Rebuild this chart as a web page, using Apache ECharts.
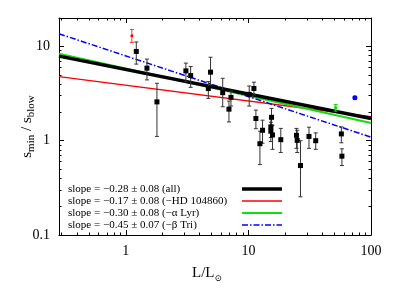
<!DOCTYPE html>
<html><head><meta charset="utf-8">
<script src="https://cdn.jsdelivr.net/npm/echarts@6/dist/echarts.min.js"></script>
<style>html,body{margin:0;padding:0;background:#fff}#c{width:399px;height:299px}</style>
</head><body><div id="c"></div>
<script>
// ---- data ----
const xRange = [0.285, 100];
const yRange = [0.1, 20];
const xMajor = [1, 10, 100];
const xMinor = [0.3,0.4,0.5,0.6,0.7,0.8,0.9,2,3,4,5,6,7,8,9,20,30,40,50,60,70,80,90];
const yMajor = [0.1, 1, 10];
const yMinor = [0.2,0.3,0.4,0.5,0.6,0.7,0.8,0.9,2,3,4,5,6,7,8,9,20];

const diskL  = [1.217,1.487,1.794,3.09,3.38,4.91,4.71,6.17,7.21,6.94,10.15,11.09,11.51,13.04,12.41,15.44,15.24,15.24,15.73,18.37,24.66,25.0,26.6,31.2,35.4,57.3,57.9];
const diskS  = [8.84,5.88,2.58,5.50,4.90,5.33,3.57,3.23,2.88,2.16,3.10,3.58,1.72,1.29,0.929,1.77,1.40,1.26,1.15,1.025,1.14,1.007,0.545,1.11,1.0,1.18,0.685];
const diskLo = [6.49,4.41,1.11,4.23,3.68,3.90,2.81,2.29,2.33,1.58,2.33,3.05,1.34,0.94,0.558,1.42,1.08,0.98,0.81,0.75,0.83,0.75,0.254,0.83,0.81,0.95,0.545];
const diskHi = [11.14,7.33,4.06,6.65,6.11,7.67,4.23,4.59,3.36,2.63,3.80,4.17,2.11,1.65,1.26,2.20,1.73,1.57,1.46,1.35,1.35,1.29,1.0,1.39,1.21,1.40,0.82];

const hdL = [1.12],  hdS = [13.0], hdLo = [11.0], hdHi = [15.1];
const lyrL = [51.5], lyrS = [2.23], lyrLo = [2.06], lyrHi = [2.42];
const triL = [73.9], triS = [2.85], triLo = [2.76], triHi = [2.95];

const fitNames = ['slope = \u22120.28 \u00b1 0.08 (all)', 'slope = \u22120.17 \u00b1 0.08 (\u2212HD 104860)', 'slope = \u22120.30 \u00b1 0.08 (\u2212\u03b1 Lyr)', 'slope = \u22120.45 \u00b1 0.07 (\u2212\u03b2 Tri)'];
const fitAtMin = [7.89, 4.78, 8.36, 13.6];
const fitAtMax = [1.72, 1.79, 1.54, 1.09];

// ---- styles ----
const FONT = 'Liberation Serif';
const fitColors = ['#000000', '#ff0000', '#11dd11', '#0000ff'];
const fitWidths = [3.5, 1.5, 2.2, 1.5];
const fitTypes = ['solid', 'solid', 'solid', [6, 2, 1.5, 2]];

function axisSet(range, major, minor, posA, posB, labelCfg, nameCfg) {
  const base = {type: 'log', logBase: 10, min: range[0], max: range[1], splitLine: {show: false}, minorTick: {show: false}};
  const tick = (vals, len) => ({show: true, inside: true, length: len, customValues: vals, lineStyle: {color: '#000', width: 1}});
  const line = {show: true, onZero: false, lineStyle: {color: '#000', width: 1}};
  return [
    Object.assign({}, base, {position: posA, axisLine: line, axisTick: tick(major, 5), axisLabel: labelCfg}, nameCfg),
    Object.assign({}, base, {position: posA, axisLine: {show: false}, axisTick: tick(minor, 2.5), axisLabel: {show: false}}),
    Object.assign({}, base, {position: posB, axisLine: line, axisTick: tick(major, 5), axisLabel: {show: false}}),
    Object.assign({}, base, {position: posB, axisLine: {show: false}, axisTick: tick(minor, 2.5), axisLabel: {show: false}})
  ];
}

const xAxes = axisSet(xRange, xMajor, xMinor, 'bottom', 'top',
  {show: true, customValues: xMajor, fontFamily: FONT, fontSize: 14, color: '#000', margin: 9},
  {name: '{a|L/L}{s|\u2299}', nameLocation: 'middle', nameGap: 28, nameMoveOverlap: false,
   nameTextStyle: {padding: [0, 16, 0, 0], rich: {a: {fontFamily: FONT, fontSize: 15, color: '#000', lineHeight: 20, verticalAlign: 'middle'}, s: {fontFamily: 'DejaVu Serif', fontSize: 9, color: '#000', verticalAlign: 'bottom', lineHeight: 20}}}});
const yAxes = axisSet(yRange, yMajor, yMinor, 'left', 'right',
  {show: true, customValues: yMajor, fontFamily: FONT, fontSize: 14, color: '#000', margin: 9},
  {name: '{a|s}{s|min}{a| / s}{s|blow}', nameLocation: 'middle', nameGap: 22, nameRotate: 90, nameMoveOverlap: false,
   nameTextStyle: {rich: {a: {fontFamily: FONT, fontSize: 15, color: '#000', lineHeight: 20, verticalAlign: 'middle'}, s: {fontFamily: FONT, fontSize: 11, color: '#000', verticalAlign: 'bottom', lineHeight: 20}}}});

function errSeries(L, lo, hi, color) {
  return {
    type: 'custom', xAxisIndex: 0, yAxisIndex: 0, silent: true, z: 3,
    data: L.map((x, i) => [x, lo[i], hi[i]]),
    encode: {x: 0, y: [1, 2]},
    renderItem: function (params, api) {
      const x = api.value(0);
      const a = api.coord([x, api.value(1)]);
      const b = api.coord([x, api.value(2)]);
      const w = 2;
      const st = {stroke: color, lineWidth: 1};
      return {type: 'group', children: [
        {type: 'line', shape: {x1: a[0], y1: a[1], x2: b[0], y2: b[1]}, style: st},
        {type: 'line', shape: {x1: a[0] - w, y1: a[1], x2: a[0] + w, y2: a[1]}, style: st},
        {type: 'line', shape: {x1: b[0] - w, y1: b[1], x2: b[0] + w, y2: b[1]}, style: st}
      ]};
    }
  };
}
function ptSeries(L, S, color, symbol, size) {
  return {type: 'scatter', xAxisIndex: 0, yAxisIndex: 0, silent: true, z: 5,
    data: L.map((x, i) => [x, S[i]]), symbol: symbol, symbolSize: size,
    itemStyle: {color: color, opacity: 1}};
}

const series = [];
fitNames.forEach((n, i) => {
  series.push({type: 'line', name: n, xAxisIndex: 0, yAxisIndex: 0, silent: true, z: 2 + (i === 0 ? 0.5 : 0),
    symbol: 'none', showSymbol: false, data: [[xRange[0], fitAtMin[i]], [xRange[1], fitAtMax[i]]],
    lineStyle: {color: fitColors[i], width: fitWidths[i], type: fitTypes[i]}, itemStyle: {color: fitColors[i]}});
});
series.push(errSeries(diskL, diskLo, diskHi, '#333'));
series.push(errSeries(hdL, hdLo, hdHi, '#ff3030'));
series.push(errSeries(lyrL, lyrLo, lyrHi, '#11dd11'));
series.push(errSeries(triL, triLo, triHi, '#0000ff'));
series.push(ptSeries(diskL, diskS, '#000', 'rect', 5));
series.push(ptSeries(hdL, hdS, '#ff0000', 'circle', 3));
series.push(ptSeries(lyrL, lyrS, '#11dd11', 'rect', 3));
series.push(ptSeries(triL, triS, '#0000ff', 'circle', 5));

const chart = echarts.init(document.getElementById('c'), null, {renderer: 'canvas'});
chart.setOption({
  animation: false,
  backgroundColor: '#fff',
  grid: {left: 59, right: 28, top: 18, bottom: 64, containLabel: false},
  xAxis: xAxes,
  yAxis: yAxes,
  legend: {
    show: true,
    orient: 'vertical', left: 68, top: 183, padding: 0, align: 'right',
    itemWidth: 40, itemHeight: 8, itemGap: 0, selectedMode: false,
    data: fitNames.map((n, i) => ({name: n, itemStyle: {opacity: 0}, lineStyle: {color: fitColors[i], width: fitWidths[i], type: fitTypes[i]}})),
    formatter: function (n) { return '{t|' + n + '}'; },
    textStyle: {fontFamily: FONT, fontSize: 11, color: '#000', lineHeight: 12,
      rich: {t: {fontFamily: FONT, fontSize: 11, color: '#000', width: 169, align: 'left', lineHeight: 12}}}
  },
  series: series
});
</script></body></html>
